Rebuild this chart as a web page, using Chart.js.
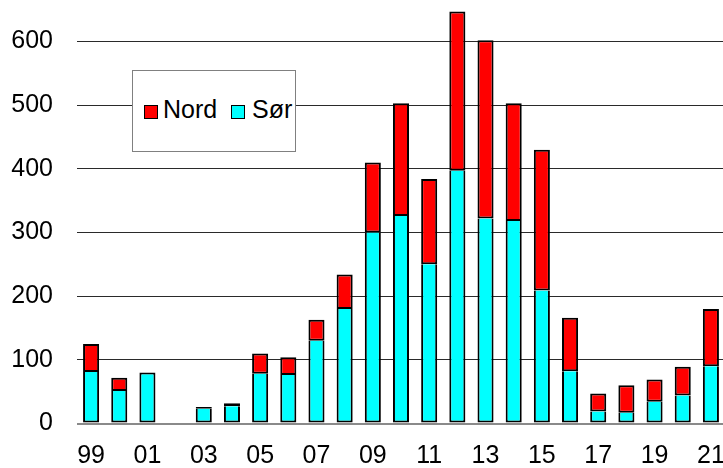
<!DOCTYPE html>
<html>
<head>
<meta charset="utf-8">
<script src="https://cdn.jsdelivr.net/npm/chart.js@4/dist/chart.umd.min.js"></script>
<style>
  html, body { margin: 0; padding: 0; background: #fff; overflow: hidden; }
  #wrap { position: relative; width: 728px; height: 468px; }
  #c { display: block; }
  #legend { position: absolute; left: 132px; top: 70px; width: 164px; height: 82px;
            border: 1px solid #808080; background: #fff; box-sizing: border-box; }
  .sw { position: absolute; width: 14px; height: 14px; border: 1px solid #000; box-sizing: border-box; }
  .lt { position: absolute; font-family: "Liberation Sans", Arial, sans-serif; font-size: 25px;
        line-height: 25px; color: #000; white-space: nowrap; }
</style>
</head>
<body>
<div id="wrap">
  <canvas id="c" width="728" height="468"></canvas>
  <div id="legend">
    <div class="sw" style="left:11px; top:34px; background:#ff0000;"></div>
    <div class="lt" style="left:30px; top:26px;">Nord</div>
    <div class="sw" style="left:98px; top:34px; background:#00ffff;"></div>
    <div class="lt" style="left:119px; top:26px;">Sør</div>
  </div>
</div>
<script>
const years = ["99","00","01","02","03","04","05","06","07","08","09","10","11","12","13","14","15","16","17","18","19","20","21"];
const sor  = [81, 51, 80, 0, 23, 27, 78, 76, 130, 180, 300, 326, 250, 397, 322, 318, 209, 82, 19, 17, 34, 44, 90];
const nord = [44, 21, 0, 0, 3, 5, 32, 28, 33, 54, 110, 177, 134, 250, 280, 185, 221, 84, 28, 43, 35, 45, 90];
const yTicks = [0, 100, 200, 300, 400, 500, 600];

const font = { family: "'Liberation Sans', Arial, sans-serif", size: 25 };

new Chart(document.getElementById('c'), {
  type: 'bar',
  data: {
    labels: years,
    datasets: [
      { label: 'Sør', data: sor, backgroundColor: '#00ffff', borderColor: '#000', borderWidth: 2,
        borderSkipped: ctx => (nord[ctx.dataIndex] > 0 ? 'top' : false) },
      { label: 'Nord', data: nord, backgroundColor: '#ff0000', borderColor: '#000', borderWidth: 2,
        borderSkipped: false, hidden: false }
    ]
  },
  options: {
    responsive: false,
    animation: false,
    devicePixelRatio: 1,
    layout: { padding: { top: 3.3, right: 3, left: 0, bottom: 0 } },
    plugins: { legend: { display: false }, tooltip: { enabled: false } },
    datasets: { bar: { categoryPercentage: 1, barPercentage: 0.57 } },
    scales: {
      x: {
        stacked: true,
        grid: { display: false, drawTicks: false },
        border: { display: false },
        ticks: {
          font: font, color: '#000', padding: 18, autoSkip: false, maxRotation: 0,
          callback: function(v, i) { return i % 2 === 0 ? years[i] : ''; }
        },
        afterFit: function(s) { s.height = 44.5; s.paddingLeft = 0; s.paddingRight = 0; }
      },
      y: {
        stacked: true,
        min: 0, max: 660,
        afterBuildTicks: function(s) { s.ticks = yTicks.map(v => ({ value: v })); },
        afterFit: function(s) { s.width = 77; s.paddingTop = 0; s.paddingBottom = 0; },
        grid: {
          drawTicks: false,
          color: ctx => ctx.tick && ctx.tick.value === 0 ? '#8a8a8a' : '#2a2a2a',
          lineWidth: ctx => ctx.tick && ctx.tick.value === 0 ? 2 : 1
        },
        border: { display: false },
        ticks: { font: font, color: '#000', padding: 24 }
      }
    }
  }
});
</script>
</body>
</html>
